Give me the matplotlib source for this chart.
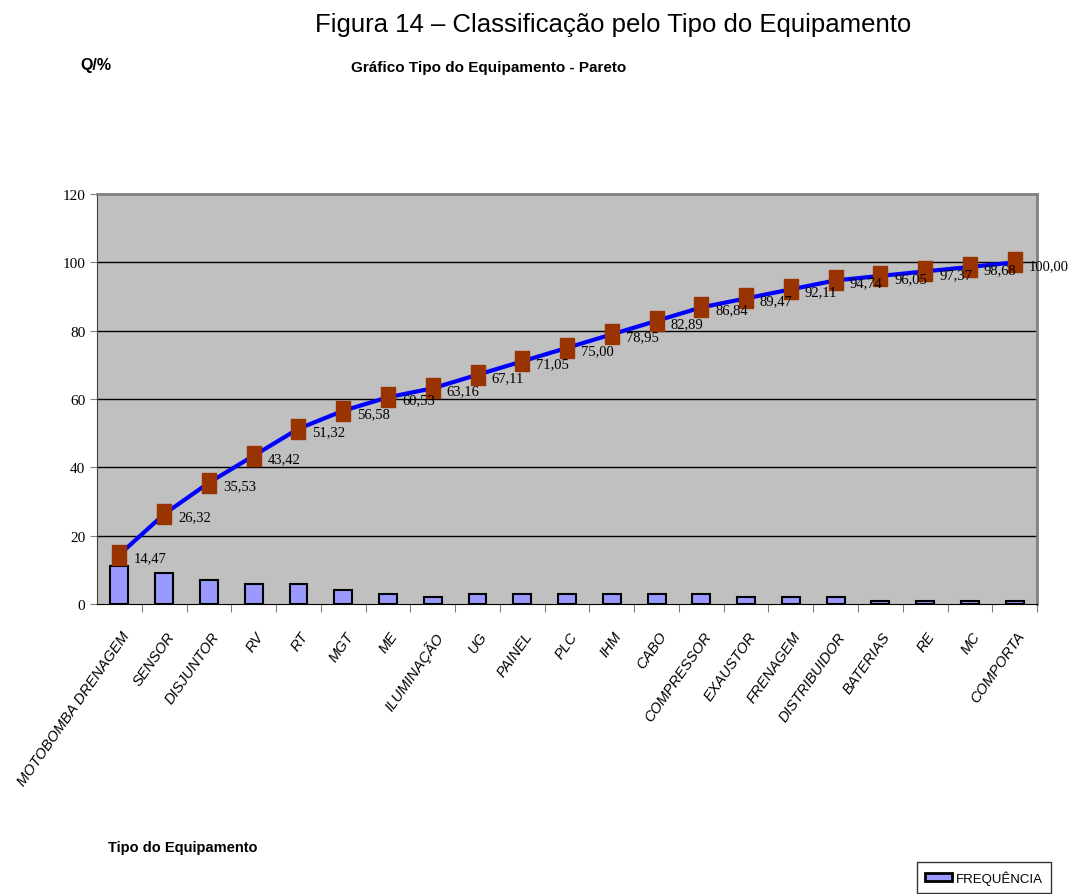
import matplotlib

matplotlib.use("Agg")

import matplotlib.pyplot as plt  # noqa: E402
import numpy as np  # noqa: E402

categories = [
    "MOTOBOMBA DRENAGEM", "SENSOR", "DISJUNTOR", "RV", "RT", "MGT", "ME",
    "ILUMINAÇÃO", "UG", "PAINEL", "PLC", "IHM", "CABO", "COMPRESSOR",
    "EXAUSTOR", "FRENAGEM", "DISTRIBUIDOR", "BATERIAS", "RE", "MC", "COMPORTA",
]
frequencia = [11, 9, 7, 6, 6, 4, 3, 2, 3, 3, 3, 3, 3, 3, 2, 2, 2, 1, 1, 1, 1]
acumulado = [14.47, 26.32, 35.53, 43.42, 51.32, 56.58, 60.53, 63.16, 67.11,
             71.05, 75.00, 78.95, 82.89, 86.84, 89.47, 92.11, 94.74, 96.05,
             97.37, 98.68, 100.00]
y_ticks = [0, 20, 40, 60, 80, 100, 120]

# tall brown rectangle marker like the spreadsheet one
rect_marker = [(-0.75, -1), (0.75, -1), (0.75, 1), (-0.75, 1), (-0.75, -1)]

fig = plt.figure(figsize=(10.7, 8.95), dpi=100)
ax = fig.add_axes([0.0907, 0.324, 0.8785, 0.458])
ax.set_facecolor("#c0c0c0")

x = np.arange(len(categories))
ax.bar(x, frequencia, width=0.4, color="#9999ff", edgecolor="black",
       linewidth=1.5, zorder=2)
ax.plot(x, acumulado, color="#0000ff", lw=3, zorder=3)
ax.plot(x, acumulado, ls="none", marker=rect_marker, ms=14, color="#993300",
        mec="#993300", zorder=4)
for xi, v in zip(x, acumulado):
    ax.annotate(f"{v:.2f}".replace(".", ","), (xi, v), xytext=(10, -2),
                textcoords="offset points", ha="left", va="center",
                fontsize=10.5, family="Liberation Serif", zorder=5,
                annotation_clip=False)

ax.set_xlim(-0.5, len(categories) - 0.5)
ax.set_ylim(0, 120)
ax.set_yticks(y_ticks)
ax.set_yticklabels([str(t) for t in y_ticks], family="Liberation Serif",
                   fontsize=11)
for t in y_ticks[1:-1]:
    ax.axhline(t, color="black", lw=1, zorder=1)

ax.set_xticks(x + 0.5)
ax.set_xticklabels([])
ax.tick_params(axis="x", direction="out", length=6, color="#808080")
ax.tick_params(axis="y", direction="out", length=5, color="#808080")
for xi, name in zip(x, categories):
    ax.annotate(name, (xi, 0), xytext=(1, -18), textcoords="offset points",
                rotation=55, rotation_mode="anchor", ha="right", va="top",
                fontsize=10.5, style="italic", family="Liberation Sans",
                annotation_clip=False)

for side in ["top", "right"]:
    ax.spines[side].set_color("#808080")
    ax.spines[side].set_linewidth(2)
ax.spines["left"].set_color("#404040")
ax.spines["bottom"].set_color("black")

fig.text(0.573, 0.972, "Figura 14 – Classificação pelo Tipo do Equipamento",
         ha="center", va="center", fontsize=18.5, family="Liberation Sans")
fig.text(0.075, 0.927, "Q/%", ha="left", va="center", fontsize=11.5,
         weight="bold", family="Liberation Sans")
fig.text(0.457, 0.924, "Gráfico Tipo do Equipamento - Pareto", ha="center",
         va="center", fontsize=11, weight="bold", family="Liberation Sans")
fig.text(0.101, 0.052, "Tipo do Equipamento", ha="left", va="center",
         fontsize=10.5, weight="bold", family="Liberation Sans")

handle = plt.Rectangle((0, 0), 1, 1, facecolor="#9999ff", edgecolor="black",
                       lw=2)
leg = fig.legend([handle], ["FREQUÊNCIA"], loc="lower right",
                 bbox_to_anchor=(0.988, -0.006), fancybox=False,
                 edgecolor="black", prop={"family": "Liberation Sans",
                                          "size": 9.5},
                 handlelength=2.0, handleheight=0.5, borderpad=0.6,
                 handletextpad=0.3)
leg.get_frame().set_linewidth(1)

fig.savefig("out.png", dpi=100)
